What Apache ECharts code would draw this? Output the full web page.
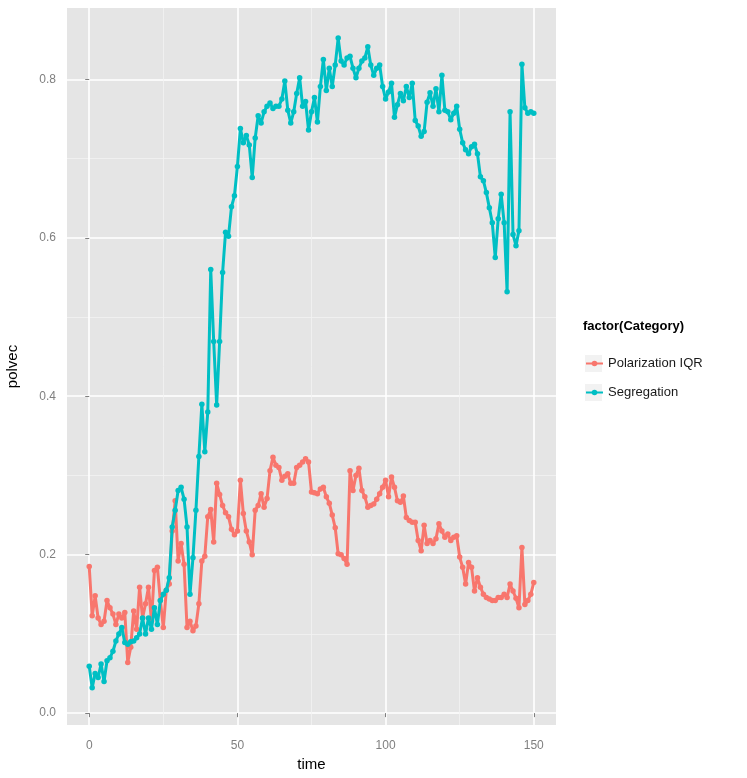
<!DOCTYPE html>
<html>
<head>
<meta charset="utf-8">
<script src="https://cdn.jsdelivr.net/npm/echarts@6/dist/echarts.min.js"></script>
<style>
    html, body { margin: 0; padding: 0; background: #fff; }
    #chart { width: 747px; height: 778px; }
</style>
</head>
<body>
<div id="chart"></div>
<script>
// time steps 0..150
var timeSteps = [];
for (var i = 0; i <= 150; i++) timeSteps.push(i);

// Polarization IQR
var polarization = [
    0.185, 0.123, 0.148, 0.120, 0.112, 0.116, 0.142, 0.133, 0.125, 0.112,
    0.125, 0.120, 0.127, 0.064, 0.083, 0.129, 0.106, 0.159, 0.120, 0.138,
    0.159, 0.116, 0.180, 0.184, 0.142, 0.108, 0.155, 0.163, 0.230, 0.268,
    0.192, 0.214, 0.188, 0.108, 0.116, 0.104, 0.110, 0.138, 0.192, 0.198,
    0.248, 0.257, 0.216, 0.290, 0.276, 0.262, 0.253, 0.248, 0.232, 0.225,
    0.230, 0.294, 0.252, 0.230, 0.216, 0.200, 0.256, 0.262, 0.277, 0.260,
    0.271, 0.306, 0.323, 0.313, 0.310, 0.294, 0.299, 0.302, 0.290, 0.290,
    0.310, 0.313, 0.317, 0.321, 0.317, 0.279, 0.278, 0.277, 0.283, 0.285,
    0.273, 0.265, 0.250, 0.234, 0.201, 0.200, 0.195, 0.188, 0.306, 0.281,
    0.300, 0.309, 0.281, 0.273, 0.260, 0.262, 0.264, 0.270, 0.277, 0.285,
    0.294, 0.273, 0.298, 0.285, 0.268, 0.266, 0.274, 0.247, 0.243, 0.241,
    0.241, 0.218, 0.205, 0.237, 0.214, 0.218, 0.214, 0.220, 0.239, 0.230,
    0.222, 0.226, 0.218, 0.222, 0.224, 0.197, 0.184, 0.163, 0.190, 0.184,
    0.154, 0.171, 0.159, 0.150, 0.146, 0.144, 0.142, 0.142, 0.146, 0.146,
    0.150, 0.146, 0.163, 0.154, 0.145, 0.133, 0.209, 0.137, 0.142, 0.150,
    0.165
];

// Segregation
var segregation = [
    0.059, 0.032, 0.050, 0.045, 0.062, 0.040, 0.066, 0.070, 0.078, 0.091,
    0.100, 0.108, 0.089, 0.087, 0.090, 0.091, 0.095, 0.100, 0.120, 0.100,
    0.120, 0.106, 0.133, 0.112, 0.142, 0.150, 0.155, 0.171, 0.235, 0.256,
    0.281, 0.285, 0.270, 0.235, 0.150, 0.196, 0.256, 0.324, 0.390, 0.330,
    0.380, 0.560, 0.469, 0.389, 0.469, 0.556, 0.607, 0.602, 0.639, 0.653,
    0.690, 0.738, 0.720, 0.729, 0.717, 0.676, 0.726, 0.754, 0.745, 0.759,
    0.766, 0.770, 0.763, 0.766, 0.766, 0.775, 0.798, 0.761, 0.745, 0.759,
    0.782, 0.802, 0.766, 0.772, 0.736, 0.759, 0.777, 0.746, 0.791, 0.825,
    0.786, 0.814, 0.791, 0.818, 0.852, 0.823, 0.818, 0.827, 0.829, 0.814,
    0.802, 0.814, 0.823, 0.827, 0.841, 0.818, 0.805, 0.814, 0.818, 0.791,
    0.775, 0.784, 0.795, 0.752, 0.768, 0.782, 0.773, 0.791, 0.777, 0.795,
    0.748, 0.741, 0.728, 0.734, 0.771, 0.783, 0.766, 0.788, 0.759, 0.805,
    0.761, 0.759, 0.749, 0.757, 0.766, 0.737, 0.720, 0.711, 0.706, 0.715,
    0.718, 0.706, 0.677, 0.672, 0.657, 0.638, 0.619, 0.575, 0.624, 0.655,
    0.619, 0.532, 0.759, 0.604, 0.590, 0.609, 0.819, 0.764, 0.757, 0.759,
    0.757
];

var xMajorTicks = [0, 50, 100, 150];
var xMinorTicks = [25, 75, 125];
var yMajorTicks = [0, 0.2, 0.4, 0.6, 0.8];
var yMinorTicks = [0.1, 0.3, 0.5, 0.7];
var seriesNames = ['Polarization IQR', 'Segregation'];
var seriesColors = ['#F8766D', '#00BFC4'];

var chart = echarts.init(document.getElementById('chart'));

var axisText = { color: '#7F7F7F', fontSize: 12, fontFamily: 'Liberation Sans, Arial' };

function pairs(vals) {
    return timeSteps.map(function (t, i) { return [t, vals[i]]; });
}

function lineSeries(idx, vals) {
    return {
        name: seriesNames[idx],
        type: 'line',
        data: pairs(vals),
        symbol: 'circle',
        symbolSize: 5.5,
        showSymbol: true,
        color: seriesColors[idx],
        lineStyle: { width: 3, color: seriesColors[idx] },
        itemStyle: { color: seriesColors[idx] },
        emphasis: { disabled: true },
        z: 3 + idx
    };
}

var option = {
    animation: false,
    backgroundColor: '#fff',
    title: {
        text: 'factor(Category)',
        left: 583,
        top: 320,
        padding: 0,
        textStyle: { fontSize: 13, fontWeight: 'bold', color: '#000', fontFamily: 'Liberation Sans, Arial' }
    },
    legend: {
        orient: 'vertical',
        left: 585,
        top: 357,
        padding: 0,
        itemWidth: 17,
        itemHeight: 7,
        itemGap: 16,
        data: seriesNames,
        textStyle: { fontSize: 13, color: '#1a1a1a', fontFamily: 'Liberation Sans, Arial' }
    },
    graphic: [
        { type: 'rect', left: 584, top: 354, z: -1, shape: { width: 18, height: 18 }, style: { fill: '#F2F2F2', stroke: '#fff' } },
        { type: 'rect', left: 584, top: 383, z: -1, shape: { width: 18, height: 18 }, style: { fill: '#F2F2F2', stroke: '#fff' } }
    ],
    grid: {
        left: 67,
        right: 191,
        top: 8,
        bottom: 53,
        outerBoundsMode: 'none',
        show: true,
        backgroundColor: '#E5E5E5',
        borderWidth: 0
    },
    xAxis: [
        {
            type: 'value',
            min: -7.5,
            max: 157.5,
            name: 'time',
            nameLocation: 'middle',
            nameGap: 29,
            nameTextStyle: { fontSize: 15, color: '#000', fontFamily: 'Liberation Sans, Arial' },
            axisLine: { show: false },
            axisTick: { show: true, length: 4, customValues: xMajorTicks, lineStyle: { color: '#7F7F7F' } },
            axisLabel: Object.assign({ margin: 15, customValues: xMajorTicks }, axisText),
            splitLine: { show: true, lineStyle: { color: '#fff', width: 1.6 } }
        },
        {
            type: 'value',
            min: -7.5,
            max: 157.5,
            position: 'bottom',
            axisLine: { show: false },
            axisTick: { show: false, customValues: xMinorTicks },
            axisLabel: { show: false, customValues: xMinorTicks },
            splitLine: { show: true, lineStyle: { color: '#F2F2F2', width: 0.8 } }
        }
    ],
    yAxis: [
        {
            type: 'value',
            min: -0.015,
            max: 0.89,
            name: 'polvec',
            nameLocation: 'middle',
            nameGap: 47,
            nameTextStyle: { fontSize: 15, color: '#000', fontFamily: 'Liberation Sans, Arial' },
            axisLine: { show: false },
            axisTick: { show: true, length: 4, customValues: yMajorTicks, lineStyle: { color: '#7F7F7F' } },
            axisLabel: Object.assign({
                margin: 11,
                customValues: yMajorTicks,
                formatter: function (v) { return v.toFixed(1); }
            }, axisText),
            splitLine: { show: true, lineStyle: { color: '#fff', width: 1.6 } }
        },
        {
            type: 'value',
            min: -0.015,
            max: 0.89,
            position: 'left',
            axisLine: { show: false },
            axisTick: { show: false, customValues: yMinorTicks },
            axisLabel: { show: false, customValues: yMinorTicks },
            splitLine: { show: true, lineStyle: { color: '#F2F2F2', width: 0.8 } }
        }
    ],
    series: [
        lineSeries(0, polarization),
        lineSeries(1, segregation)
    ]
};

chart.setOption(option);
</script>
</body>
</html>
